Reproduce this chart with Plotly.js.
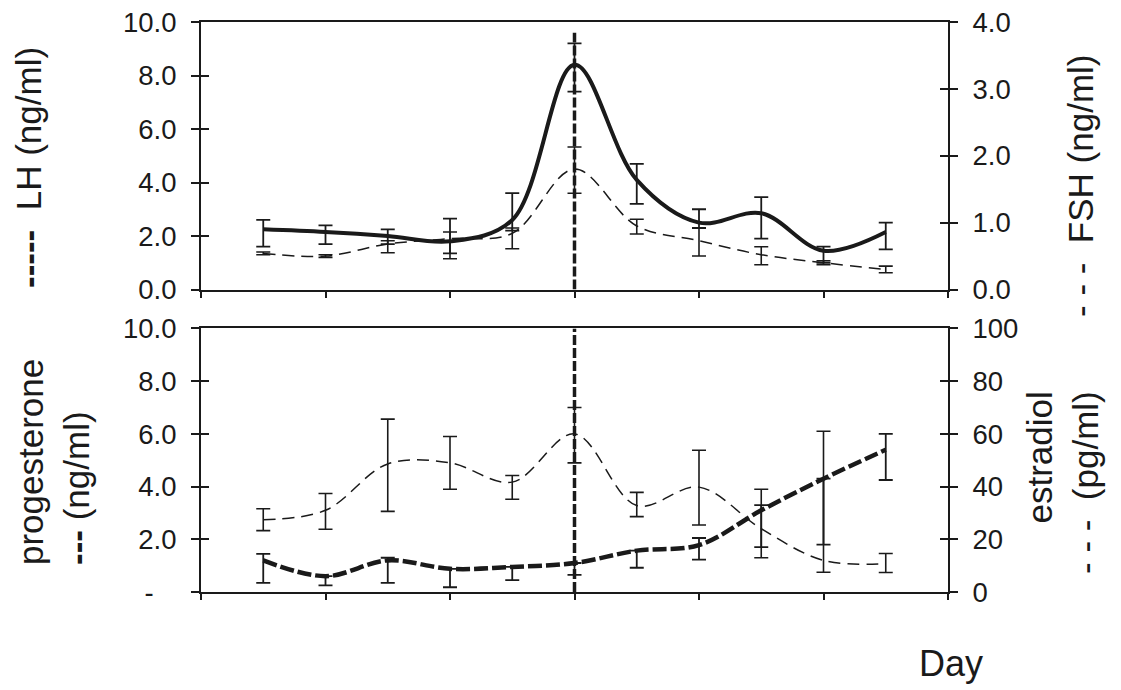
<!DOCTYPE html>
<html>
<head>
<meta charset="utf-8">
<script src="https://cdn.plot.ly/plotly-3.0.1.min.js"></script>
<style>
  html, body { margin: 0; padding: 0; background: #ffffff; }
  #chart { width: 1121px; height: 690px; }
</style>
</head>
<body>
<div id="chart"></div>
<script>
// ---- data ----
const days = [-5, -4, -3, -2, -1, 0, 1, 2, 3, 4, 5];
const surgeDay = 0;

const lh      = [2.25, 2.15, 2.0, 1.8, 2.6, 8.4, 4.1, 2.5, 2.85, 1.45, 2.15];
const lhPlus  = [0.35, 0.25, 0.25, 0.85, 1.0, 0.8, 0.6, 0.5, 0.6, 0.15, 0.35];
const lhMinus = [0.65, 0.45, 0.3, 0.45, 0.4, 1.0, 0.9, 0.2, 0.95, 0.45, 0.65];

const fsh      = [0.54, 0.5, 0.68, 0.76, 0.84, 1.8, 0.95, 0.73, 0.52, 0.4, 0.3];
const fshPlus  = [0.02, 0.02, 0.05, 0.1, 0.08, 0.33, 0.1, 0.19, 0.12, 0.03, 0.05];
const fshMinus = [0.02, 0.02, 0.13, 0.3, 0.23, 0.36, 0.12, 0.23, 0.15, 0.03, 0.05];

const prog      = [1.2, 0.6, 1.2, 0.88, 0.95, 1.1, 1.57, 1.78, 3.1, 4.3, 5.4];
const progPlus  = [0.25, 0, 0.1, 0, 0, 0, 0, 0.27, 0.2, 0, 0.6];
const progMinus = [0.85, 0.35, 0.85, 0.7, 0.5, 0.45, 0.65, 0.55, 1.4, 2.5, 1.15];

const e2      = [27.4, 31, 48.6, 49, 41.7, 60, 32.8, 39.8, 24, 12, 10.8];
const e2Plus  = [4.2, 6.4, 17, 10, 2.5, 10, 5, 14, 15, 49, 3.8];
const e2Minus = [4.1, 7.2, 18, 10, 6.5, 11, 4.2, 14.4, 11, 4.5, 3.4];

const surgeTopUpper = 9.6;
const surgeTopLower = 10;

const dayTicks = [-6, -4, -2, 0, 2, 4, 6];
const lhTicks = [0, 2, 4, 6, 8, 10];
const lhTickText = ['0.0', '2.0', '4.0', '6.0', '8.0', '10.0'];
const fshTicks = [0, 1, 2, 3, 4];
const fshTickText = ['0.0', '1.0', '2.0', '3.0', '4.0'];
const progTicks = [0, 2, 4, 6, 8, 10];
const progTickText = ['-\u00a0\u00a0\u00a0', '2.0', '4.0', '6.0', '8.0', '10.0'];
const e2Ticks = [0, 20, 40, 60, 80, 100];
const e2TickText = ['0', '20', '40', '60', '80', '100'];

// ---- styling ----
const INK = '#1a1a1a';
const FONT = 'Liberation Sans, Arial, Helvetica, sans-serif';

function errs(plus, minus, thick) {
  return { type: 'data', symmetric: false, array: plus, arrayminus: minus,
           color: INK, thickness: thick, width: 7 };
}

const traces = [
  { x: [surgeDay, surgeDay], y: [0, surgeTopUpper], xaxis: 'x', yaxis: 'y',
    mode: 'lines', line: { color: INK, width: 3.5, dash: '10px,3px' }, hoverinfo: 'skip' },
  { x: [surgeDay, surgeDay], y: [0, surgeTopLower], xaxis: 'x2', yaxis: 'y3',
    mode: 'lines', line: { color: INK, width: 3.5, dash: '10px,3px' }, hoverinfo: 'skip' },
  { name: 'LH', x: days, y: lh, xaxis: 'x', yaxis: 'y', mode: 'lines',
    line: { color: INK, width: 4, shape: 'spline', smoothing: 1 },
    error_y: errs(lhPlus, lhMinus, 1.8) },
  { name: 'FSH', x: days, y: fsh, xaxis: 'x', yaxis: 'y2', mode: 'lines',
    line: { color: INK, width: 1.5, shape: 'spline', smoothing: 1, dash: '12px,7px' },
    error_y: errs(fshPlus, fshMinus, 1.6) },
  { name: 'progesterone', x: days, y: prog, xaxis: 'x2', yaxis: 'y3', mode: 'lines',
    line: { color: INK, width: 4.5, shape: 'spline', smoothing: 1, dash: '14px,4px' },
    error_y: errs(progPlus, progMinus, 1.8) },
  { name: 'estradiol', x: days, y: e2, xaxis: 'x2', yaxis: 'y4', mode: 'lines',
    line: { color: INK, width: 1.5, shape: 'spline', smoothing: 1, dash: '12px,7px' },
    error_y: errs(e2Plus, e2Minus, 1.6) },
  // invisible companions so the inner-tick twin axes are drawn
  { x: days, y: lh, xaxis: 'x', yaxis: 'y5', mode: 'lines', opacity: 0, hoverinfo: 'skip' },
  { x: days, y: fsh, xaxis: 'x', yaxis: 'y6', mode: 'lines', opacity: 0, hoverinfo: 'skip' },
  { x: days, y: prog, xaxis: 'x2', yaxis: 'y7', mode: 'lines', opacity: 0, hoverinfo: 'skip' },
  { x: days, y: e2, xaxis: 'x2', yaxis: 'y8', mode: 'lines', opacity: 0, hoverinfo: 'skip' }
];

const topDom = [0.5307, 1];
const botDom = [0, 0.4623];

function xAx(anchor) {
  return { domain: [0, 1], anchor: anchor, range: [-6, 6], tickmode: 'array', tickvals: dayTicks,
           showticklabels: false, ticks: 'outside', ticklen: 6, tickwidth: 2, tickcolor: INK,
           showline: true, linewidth: 2, linecolor: INK, mirror: true, showgrid: false, zeroline: false };
}
function yAx(dom, range, vals, text, side, extra) {
  return Object.assign({ domain: dom, range: range, tickmode: 'array', tickvals: vals, ticktext: text,
           side: side, ticks: 'outside', ticklen: 8, tickwidth: 2, tickcolor: INK,
           showline: true, linewidth: 2, linecolor: INK, showgrid: false, zeroline: false,
           ticklabelstandoff: 9, tickfont: { family: FONT, size: 27.5, color: INK } }, extra || {});
}
function twin(over, anchor, dom, range, vals, side) {
  return { overlaying: over, anchor: anchor, domain: dom, range: range, side: side,
           tickmode: 'array', tickvals: vals, showticklabels: false,
           ticks: 'inside', ticklen: 8, tickwidth: 2, tickcolor: INK,
           showline: false, showgrid: false, zeroline: false };
}

function px2x(px) { return (px - 201) / 747; }
function px2y(py) { return (592 - py) / 570; }

const titleFont = { family: FONT, size: 35, color: INK };

const layout = {
  width: 1121, height: 690,
  margin: { l: 201, r: 173, t: 22, b: 98 },
  paper_bgcolor: '#ffffff', plot_bgcolor: '#ffffff',
  showlegend: false,
  xaxis: xAx('y'),
  xaxis2: xAx('y3'),
  yaxis: yAx(topDom, [0, 10], lhTicks, lhTickText, 'left', { anchor: 'x' }),
  yaxis2: yAx(topDom, [0, 4], fshTicks, fshTickText, 'right', { anchor: 'x', overlaying: 'y' }),
  yaxis3: yAx(botDom, [0, 10], progTicks, progTickText, 'left', { anchor: 'x2' }),
  yaxis4: yAx(botDom, [0, 100], e2Ticks, e2TickText, 'right', { anchor: 'x2', overlaying: 'y3' }),
  yaxis5: twin('y', 'x', topDom, [0, 10], lhTicks, 'left'),
  yaxis6: twin('y', 'x', topDom, [0, 4], fshTicks, 'right'),
  yaxis7: twin('y3', 'x2', botDom, [0, 10], progTicks, 'left'),
  yaxis8: twin('y3', 'x2', botDom, [0, 100], e2Ticks, 'right'),
  annotations: [
    { text: '<b>-----</b>\u00a0\u00a0LH (ng/ml)', xref: 'paper', yref: 'paper',
      x: px2x(28), y: px2y(168), xanchor: 'center', yanchor: 'middle', textangle: -90,
      showarrow: false, font: titleFont },
    { text: '- - -\u00a0\u00a0FSH (ng/ml)', xref: 'paper', yref: 'paper',
      x: px2x(1080), y: px2y(186), xanchor: 'center', yanchor: 'middle', textangle: -90,
      showarrow: false, font: titleFont },
    { text: 'progesterone<br><b>---</b>\u00a0(ng/ml)', xref: 'paper', yref: 'paper',
      x: px2x(53), y: px2y(462), xanchor: 'center', yanchor: 'middle', textangle: -90,
      align: 'left', showarrow: false, font: titleFont },
    { text: 'estradiol<br>- - -\u00a0\u00a0(pg/ml)', xref: 'paper', yref: 'paper',
      x: px2x(1062), y: px2y(483), xanchor: 'center', yanchor: 'middle', textangle: -90,
      align: 'right', showarrow: false, font: titleFont },
    { text: 'Day', xref: 'paper', yref: 'paper',
      x: px2x(951), y: px2y(663), xanchor: 'center', yanchor: 'middle',
      showarrow: false, font: { family: FONT, size: 36, color: INK } }
  ]
};

Plotly.newPlot('chart', traces, layout, { displayModeBar: false, staticPlot: true });
</script>
</body>
</html>
